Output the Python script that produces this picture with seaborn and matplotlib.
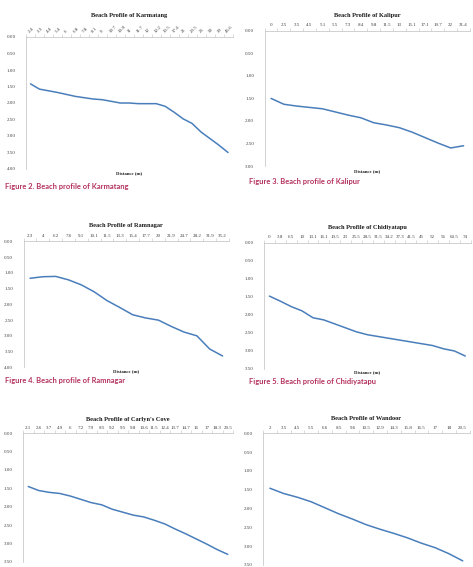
import numpy as np
import pandas as pd
import matplotlib
matplotlib.use("Agg")
import matplotlib.pyplot as plt
import seaborn as sns

sns.set_style("white")
plt.rcParams['font.family'] = ['Liberation Serif', 'DejaVu Serif']

# ---------------- data ----------------
karmatang_dist = ["2.4", "3.3", "4.4", "5.4", "6", "6.8", "7.8", "8.1", "9", "10.7", "10.8", "11",
                  "11.7", "12", "12.2", "13.5", "17.4", "21", "23.5", "26", "30", "39", "45.6"]
karmatang_depth = [1.42, 1.58, 1.63, 1.68, 1.74, 1.80, 1.84, 1.88, 1.90, 1.95, 2.00, 2.00,
                   2.02, 2.02, 2.02, 2.10, 2.28, 2.48, 2.62, 2.88, 3.08, 3.28, 3.50]

kalipur_dist = ["0", "2.5", "3.5", "4.5", "5.1", "5.5", "7.3", "8.4", "9.8", "11.5", "13", "15.1",
                "17.1", "19.7", "22", "31.4"]
kalipur_depth = [1.50, 1.63, 1.67, 1.70, 1.73, 1.80, 1.87, 1.93, 2.04, 2.09, 2.15, 2.25,
                 2.37, 2.49, 2.60, 2.55]

ramnagar_dist = ["2.3", "4", "6.2", "7.6", "9.1", "10.1", "11.5", "13.3", "15.4", "17.7", "20",
                 "21.9", "24.7", "28.2", "31.9", "35.2"]
ramnagar_depth = [1.17, 1.12, 1.11, 1.22, 1.38, 1.60, 1.88, 2.10, 2.33, 2.43, 2.50,
                  2.70, 2.88, 3.00, 3.42, 3.64]

chidiyatapu_dist = ["0", "3.8", "6.5", "10", "13.1", "16.1", "19.5", "23", "25.5", "28.5", "31.5",
                    "34.2", "37.3", "41.5", "45", "52", "56", "60.5", "74"]
chidiyatapu_depth = [1.48, 1.62, 1.77, 1.89, 2.08, 2.14, 2.25, 2.36, 2.47, 2.55, 2.60,
                     2.65, 2.70, 2.75, 2.80, 2.85, 2.94, 3.00, 3.14]

carlyn_dist = ["2.1", "2.6", "3.7", "4.9", "6", "7.2", "7.9", "8.5", "9.2", "9.5", "9.8", "10.6",
               "11.5", "12.4", "13.7", "14.7", "16", "17", "18.3", "20.5"]
carlyn_depth = [1.45, 1.56, 1.61, 1.64, 1.71, 1.80, 1.89, 1.95, 2.07, 2.15, 2.23, 2.28,
                2.37, 2.47, 2.61, 2.74, 2.88, 3.02, 3.17, 3.30]

wandoor_dist = ["2", "3.5", "4.5", "5.5", "6.6", "8.5", "9.6", "10.5", "12.9", "14.3", "15.8",
                "16.5", "17", "18", "20.5"]
wandoor_depth = [1.46, 1.60, 1.70, 1.82, 1.98, 2.14, 2.28, 2.43, 2.55, 2.66, 2.78,
                 2.92, 3.04, 3.20, 3.39]

titles = ["Beach Profile of Karmatang", "Beach Profile of Kalipur", "Beach Profile of Ramnagar",
          "Beach Profile of Chidiyatapu", "Beach Profile of Carlyn's Cove", "Beach Profile of Wandoor"]
captions = ["Figure 2. Beach profile of Karmatang", "Figure 3. Beach profile of Kalipur",
            "Figure 4. Beach profile of Ramnagar", "Figure 5. Beach profile of Chidiyatapu",
            "Figure 6. Beach profile of Carlyn's Cove", "Figure 7. Beach profile of Wandoor"]

# ---------------- layout (pixels) ----------------
W, H = 473, 567
fig = plt.figure(figsize=(W / 100, H / 100), dpi=100)

panels = [
    # dist, depth, ymax, left, right, top, bottom, title_y, rot, caption_xy, dist_label_y
    (karmatang_dist, karmatang_depth, 4.0, 26, 232.5, 37, 169, 15, 45, (5, 187), 173),
    (kalipur_dist, kalipur_depth, 3.0, 264.6, 470, 30.8, 166, 15, 0, (248.7, 181.7), 170.7),
    (ramnagar_dist, ramnagar_depth, 4.0, 23.6, 229, 241.5, 367.3, 225.7, 0, (5, 380.7), 370.7),
    (chidiyatapu_dist, chidiyatapu_depth, 3.5, 264, 470.7, 242.7, 369, 227.3, 0, (248.7, 381.7), 371.7),
    (carlyn_dist, carlyn_depth, 3.5, 23, 233, 433.3, 561.7, 419, 0, None, None),
    (wandoor_dist, wandoor_depth, 3.5, 263, 469.6, 433.3, 565, 419, 0, None, None),
]

line_color = "#4A7EBB"

for i, (dist, depth, ymax, l, r, t, b, ty, rot, cap, dly) in enumerate(panels):
    ax = fig.add_axes([l / W, 1 - b / H, (r - l) / W, (b - t) / H])
    df = pd.DataFrame({"idx": np.arange(len(dist)), "depth": depth})
    sns.lineplot(data=df, x="idx", y="depth", ax=ax, color=line_color, linewidth=1.1)
    n = len(dist)
    ax.set_xlim(-0.5, n - 0.5)
    ax.set_ylim(ymax, 0)
    ax.set_xlabel("")
    ax.set_ylabel("")
    ax.xaxis.tick_top()
    ax.set_xticks(np.arange(n))
    ax.set_xticklabels(dist, rotation=rot, ha="left" if rot else "center",
                       rotation_mode="anchor", fontsize=3.6, color="#404040")
    ax.set_xticks(np.arange(n + 1) - 0.5, minor=True)
    ax.tick_params(axis="x", which="major", length=0, pad=2.5)
    ax.tick_params(axis="x", which="minor", length=2, width=0.4, color="#BFBFBF", direction="out")
    yt = np.arange(0, ymax + 0.001, 0.5)
    ax.set_yticks(yt)
    ax.set_yticklabels([f"{v:.2f}" for v in yt], fontsize=3.6, color="#404040")
    ax.tick_params(axis="y", length=1.5, width=0.4, color="#BFBFBF", pad=6)
    for s in ["right", "bottom"]:
        ax.spines[s].set_visible(False)
    for s in ["left", "top"]:
        ax.spines[s].set_color("#BFBFBF")
        ax.spines[s].set_linewidth(0.5)
    cx = (l + r) / 2
    fig.text(cx / W, 1 - ty / H, titles[i], ha="center", va="center",
             fontsize=4.6, fontweight="bold", color="#1A1A1A")
    if dly is not None:
        fig.text(cx / W, 1 - dly / H, "Distance (m)", ha="center", va="center",
                 fontsize=3.4, fontweight="bold", color="#1A1A1A")
    if cap is not None:
        fig.text(cap[0] / W, 1 - cap[1] / H, captions[i], ha="left", va="center",
                 fontsize=5.4, fontweight="bold", color="#B4325E", family=["Lato", "DejaVu Sans"])

fig.savefig("out.png", dpi=100)
